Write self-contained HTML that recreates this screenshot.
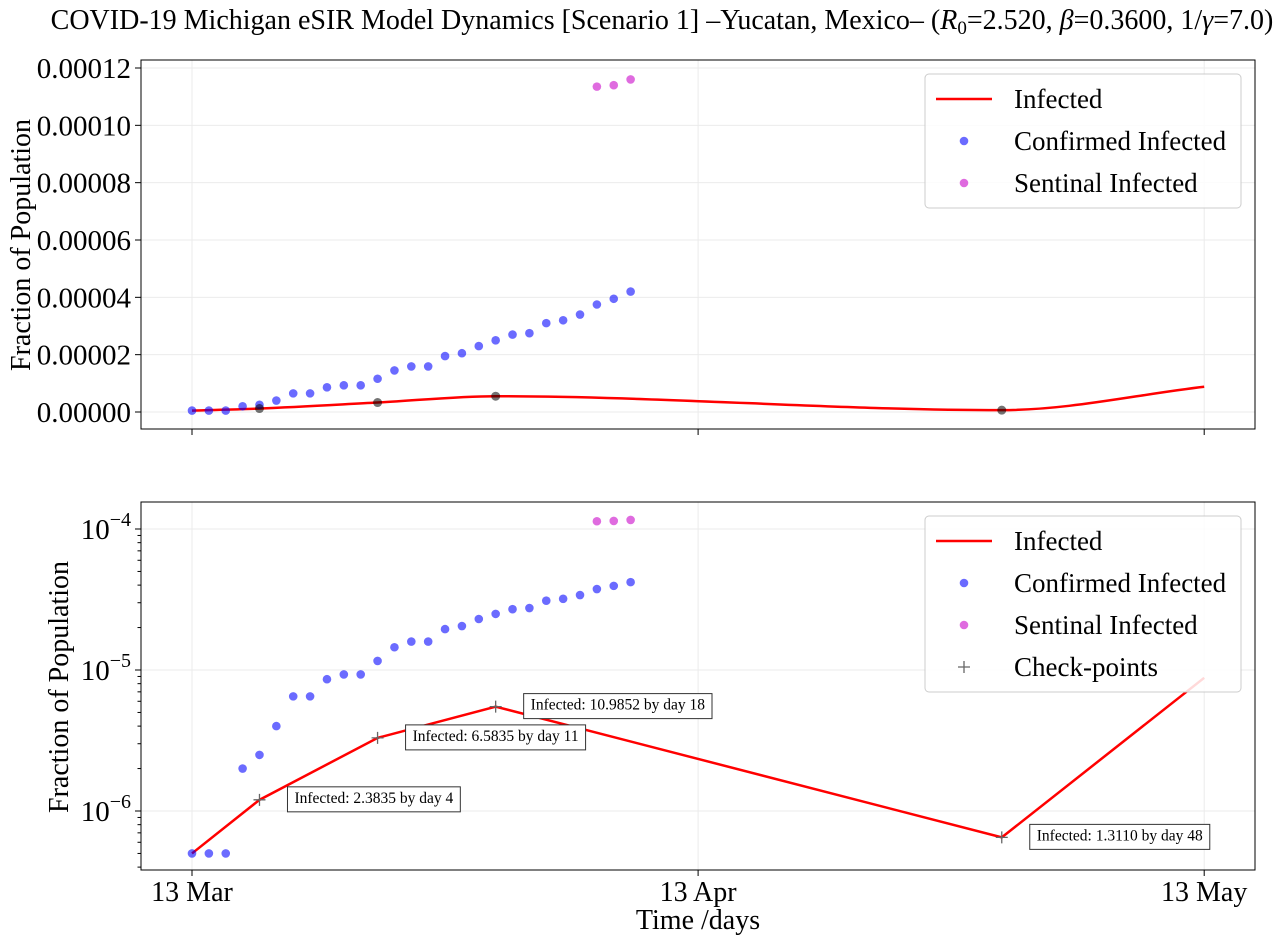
<!DOCTYPE html>
<html><head><meta charset="utf-8"><style>
body{margin:0;background:#fff;}
svg text{font-family:"Liberation Serif",serif;fill:#000;}
</style></head><body>
<svg id="chart" width="1281" height="945" xmlns="http://www.w3.org/2000/svg"></svg>
<script>
const days = [0,1,2,3,4,5,6,7,8,9,10,11,12,13,14,15,16,17,18,19,20,21,22,23,24,25,26];
const confirmed = [5e-7,5e-7,5e-7,2.0e-6,2.5e-6,4.0e-6,6.5e-6,6.5e-6,8.6e-6,9.3e-6,9.3e-6,1.16e-5,1.45e-5,1.59e-5,1.59e-5,1.95e-5,2.05e-5,2.3e-5,2.5e-5,2.7e-5,2.75e-5,3.1e-5,3.2e-5,3.4e-5,3.75e-5,3.95e-5,4.2e-5];
const sentDays = [24,25,26];
const sentinel = [1.135e-4,1.14e-4,1.16e-4];
const modelDays = [0,4,11,18,48,60];
const modelVals = [5e-7,1.2e-6,3.3e-6,5.5e-6,6.5e-7,8.8e-6];
const cpDays = [4,11,18,48];
const cpVals = [1.2e-6,3.3e-6,5.5e-6,6.5e-7];
const cpLabels = ["Infected: 2.3835 by day 4","Infected: 6.5835 by day 11","Infected: 10.9852 by day 18","Infected: 1.3110 by day 48"];
const xTickDays = [0,30,60];
const xTickLabels = ["13 Mar","13 Apr","13 May"];
const yTicksLin = [0,2e-5,4e-5,6e-5,8e-5,1e-4,1.2e-4];
const yTickLinLabels = ["0.00000","0.00002","0.00004","0.00006","0.00008","0.00010","0.00012"];
const yTicksLog = [-6,-5,-4];

const svg=document.getElementById('chart');
const NS='http://www.w3.org/2000/svg';
function mk(tag,attrs,parent){const e=document.createElementNS(NS,tag);for(const k in attrs)e.setAttribute(k,attrs[k]);(parent||svg).appendChild(e);return e;}
const X=d=>192+d*16.87;
const Yt=v=>412-v*2866700;
const Yb=v=>811-(Math.log10(v)+6)*141;
const P1={l:141,r:1255,t:60,b:429}, P2={l:141,r:1255,t:502,b:870};
const TF=29;
const BLUE='rgba(0,0,255,0.58)', PINK='rgba(200,0,200,0.58)';

let t=mk('text',{x:662,y:29,'text-anchor':'middle','font-size':28});

t.innerHTML='COVID-19 Michigan eSIR Model Dynamics [Scenario 1] –Yucatan, Mexico– (<tspan font-style="italic">R</tspan><tspan font-size="19" dy="5">0</tspan><tspan dy="-5">=2.520, </tspan><tspan font-style="italic">β</tspan>=0.3600, 1/<tspan font-style="italic">γ</tspan>=7.0)';

function frame(name){const g=mk('g',{});return g;}
// top panel
const g1=frame('top-panel');
xTickDays.forEach(d=>{mk('line',{x1:X(d),x2:X(d),y1:P1.t,y2:P1.b,stroke:'#ebebeb'},g1);mk('line',{x1:X(d),x2:X(d),y1:P1.b,y2:P1.b+6,stroke:'#000'},g1);});
yTicksLin.forEach((v,i)=>{const y=Yt(v);mk('line',{x1:P1.l,x2:P1.r,y1:y,y2:y,stroke:'#ebebeb'},g1);mk('line',{x1:P1.l-6,x2:P1.l,y1:y,y2:y,stroke:'#000'},g1);
 const tt=mk('text',{x:P1.l-10,y:y+10,'text-anchor':'end','font-size':TF},g1);tt.textContent=yTickLinLabels[i];});
let yl=mk('text',{transform:'translate(30,245) rotate(-90)','text-anchor':'middle','font-size':28},g1);yl.textContent='Fraction of Population';

// monotone cubic (Fritsch-Carlson) path
function monotone(pts){const n=pts.length,dx=[],m=[],s=[];
 for(let i=0;i<n-1;i++){dx[i]=pts[i+1][0]-pts[i][0];s[i]=(pts[i+1][1]-pts[i][1])/dx[i];}
 m[0]=s[0];m[n-1]=s[n-2];
 for(let i=1;i<n-1;i++){m[i]=(s[i-1]*s[i]<=0)?0:(s[i-1]+s[i])/2;}
 for(let i=0;i<n-1;i++){if(s[i]===0){m[i]=m[i+1]=0;continue;}const a=m[i]/s[i],b=m[i+1]/s[i],h=a*a+b*b;if(h>9){const tt=3/Math.sqrt(h);m[i]=tt*a*s[i];m[i+1]=tt*b*s[i];}}
 let d='M'+pts[0][0]+','+pts[0][1];
 for(let i=0;i<n-1;i++){const h=dx[i]/3;d+=' C'+(pts[i][0]+h)+','+(pts[i][1]+m[i]*h)+' '+(pts[i+1][0]-h)+','+(pts[i+1][1]-m[i+1]*h)+' '+pts[i+1][0]+','+pts[i+1][1];}
 return d;}
let ml=mk('path',{d:monotone(modelDays.map((d,i)=>[X(d),Yt(modelVals[i])])),fill:'none',stroke:'#f00','stroke-width':2.5},g1);

days.forEach((d,i)=>{const c=mk('circle',{cx:X(d),cy:Yt(confirmed[i]),r:4.3,fill:BLUE},g1);});
sentDays.forEach((d,i)=>{const c=mk('circle',{cx:X(d),cy:Yt(sentinel[i]),r:4.3,fill:PINK},g1);});
cpDays.forEach((d,i)=>{const c=mk('circle',{cx:X(d),cy:Yt(cpVals[i]),r:4.5,fill:'rgba(0,0,0,0.55)'},g1);});
mk('rect',{x:P1.l,y:P1.t,width:P1.r-P1.l,height:P1.b-P1.t,fill:'none',stroke:'#000'},g1);

// bottom panel
const g2=frame('bottom-panel');
xTickDays.forEach((d,i)=>{mk('line',{x1:X(d),x2:X(d),y1:P2.t,y2:P2.b,stroke:'#ebebeb'},g2);mk('line',{x1:X(d),x2:X(d),y1:P2.b,y2:P2.b+6,stroke:'#000'},g2);
 const tt=mk('text',{x:X(d),y:P2.b+31,'text-anchor':'middle','font-size':28},g2);tt.textContent=xTickLabels[i];});
yTicksLog.forEach(e=>{const y=Yb(Math.pow(10,e));mk('line',{x1:P2.l,x2:P2.r,y1:y,y2:y,stroke:'#ebebeb'},g2);mk('line',{x1:P2.l-6,x2:P2.l,y1:y,y2:y,stroke:'#000'},g2);
 const tt=mk('text',{x:P2.l-10,y:y+10,'text-anchor':'end','font-size':TF},g2);tt.innerHTML='10<tspan font-size="20" dy="-13">−'+(-e)+'</tspan>';});
for(let e=-7;e<=-4;e++)for(let m=2;m<=9;m++){const y=Yb(m*Math.pow(10,e));if(y>P2.t&&y<P2.b)mk('line',{x1:P2.l-3.5,x2:P2.l,y1:y,y2:y,stroke:'#000'},g2);}
yl=mk('text',{transform:'translate(68,687) rotate(-90)','text-anchor':'middle','font-size':28},g2);yl.textContent='Fraction of Population';

let xl=mk('text',{x:698,y:929,'text-anchor':'middle','font-size':28},g2);xl.textContent='Time /days';

ml=mk('polyline',{points:modelDays.map((d,i)=>X(d)+','+Yb(modelVals[i])).join(' '),fill:'none',stroke:'#f00','stroke-width':2.5},g2);

days.forEach((d,i)=>{const c=mk('circle',{cx:X(d),cy:Yb(confirmed[i]),r:4.3,fill:BLUE},g2);});
sentDays.forEach((d,i)=>{const c=mk('circle',{cx:X(d),cy:Yb(sentinel[i]),r:4.3,fill:PINK},g2);});
cpDays.forEach((d,i)=>{const x=X(d),y=Yb(cpVals[i]);
 const p=mk('path',{d:`M${x-6},${y}H${x+6}M${x},${y-6}V${y+6}`,stroke:'#666','stroke-width':1.3},g2);
 const bg=mk('g',{},g2);
 const tx=mk('text',{x:x+35,y:y+3,'font-size':15.5},bg);tx.textContent=cpLabels[i];
 const w=tx.getComputedTextLength();
 const r=mk('rect',{x:x+28,y:y-13,width:w+14,height:25,fill:'#fff',stroke:'#333'},bg);bg.insertBefore(r,tx);
});
mk('rect',{x:P2.l,y:P2.t,width:P2.r-P2.l,height:P2.b-P2.t,fill:'none',stroke:'#000'},g2);

// legends
function legend(y0,entries,name){const g=mk('g',{});
 mk('rect',{x:925,y:y0,width:316,height:entries.length*42+8,rx:4,fill:'rgba(255,255,255,0.85)',stroke:'#ccc'},g);
 entries.forEach((e,i)=>{const y=y0+25+i*42;
  if(e[0]=='line')mk('line',{x1:936,x2:992,y1:y,y2:y,stroke:'#f00','stroke-width':2.5},g);
  else if(e[0]=='plus')mk('path',{d:`M958,${y}h12M964,${y-6}v12`,stroke:'#666','stroke-width':1.3},g);
  else mk('circle',{cx:964,cy:y,r:4.3,fill:e[0]},g);
  const tt=mk('text',{x:1014,y:y+9,'font-size':27},g);tt.textContent=e[1];});}
legend(74,[['line','Infected'],[BLUE,'Confirmed Infected'],[PINK,'Sentinal Infected']],'legend-top');
legend(516,[['line','Infected'],[BLUE,'Confirmed Infected'],[PINK,'Sentinal Infected'],['plus','Check-points']],'legend-bottom');
</script>
</body></html>
